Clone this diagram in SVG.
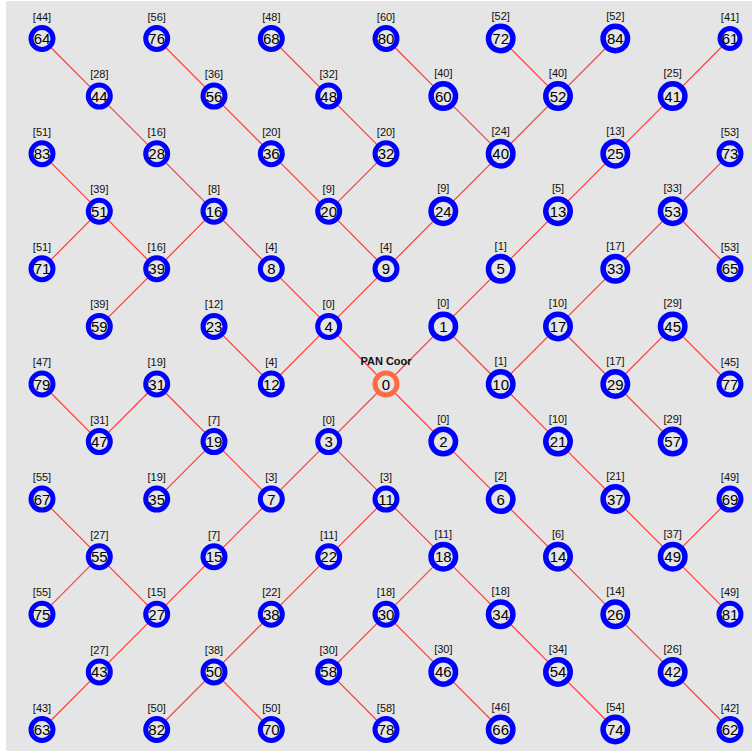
<svg xmlns="http://www.w3.org/2000/svg" width="752" height="755" viewBox="0 0 752 755">
<style>
.s{fill:#e5e5e5;stroke:#0000ff;stroke-width:5}
.b{fill:#e5e5e5;stroke:#0000ff;stroke-width:5.5}
.c{fill:#e5e5e5;stroke:#ff6a45;stroke-width:5}
.num{font-family:"Liberation Sans",Arial,sans-serif;font-size:15px;fill:#000;text-anchor:middle}
.lbl{font-family:"Liberation Sans",Arial,sans-serif;font-size:11px;fill:#111;text-anchor:middle}
#connectors line{stroke:#ff3b3b;stroke-width:1.2}
</style>
<rect x="0" y="0" width="752" height="755" fill="#ffffff"/>
<rect x="6" y="1" width="746" height="750" fill="#e5e5e5"/>
<g id="connectors">
<line x1="42" y1="38.5" x2="99.3" y2="96.1"/>
<line x1="156.7" y1="38.5" x2="214" y2="96.1"/>
<line x1="271.3" y1="38.5" x2="328.7" y2="96.1"/>
<line x1="386" y1="38.5" x2="443.3" y2="96.1"/>
<line x1="500.7" y1="38.5" x2="558" y2="96.1"/>
<line x1="615.3" y1="38.5" x2="558" y2="96.1"/>
<line x1="730" y1="38.5" x2="672.7" y2="96.1"/>
<line x1="99.3" y1="96.1" x2="156.7" y2="153.7"/>
<line x1="214" y1="96.1" x2="271.3" y2="153.7"/>
<line x1="328.7" y1="96.1" x2="386" y2="153.7"/>
<line x1="443.3" y1="96.1" x2="500.7" y2="153.7"/>
<line x1="558" y1="96.1" x2="500.7" y2="153.7"/>
<line x1="672.7" y1="96.1" x2="615.3" y2="153.7"/>
<line x1="42" y1="153.7" x2="99.3" y2="211.2"/>
<line x1="156.7" y1="153.7" x2="214" y2="211.2"/>
<line x1="271.3" y1="153.7" x2="328.7" y2="211.2"/>
<line x1="386" y1="153.7" x2="328.7" y2="211.2"/>
<line x1="500.7" y1="153.7" x2="443.3" y2="211.2"/>
<line x1="615.3" y1="153.7" x2="558" y2="211.2"/>
<line x1="730" y1="153.7" x2="672.7" y2="211.2"/>
<line x1="99.3" y1="211.2" x2="156.7" y2="268.8"/>
<line x1="214" y1="211.2" x2="271.3" y2="268.8"/>
<line x1="328.7" y1="211.2" x2="386" y2="268.8"/>
<line x1="443.3" y1="211.2" x2="386" y2="268.8"/>
<line x1="558" y1="211.2" x2="500.7" y2="268.8"/>
<line x1="672.7" y1="211.2" x2="615.3" y2="268.8"/>
<line x1="42" y1="268.8" x2="99.3" y2="211.2"/>
<line x1="156.7" y1="268.8" x2="214" y2="211.2"/>
<line x1="271.3" y1="268.8" x2="328.7" y2="326.4"/>
<line x1="386" y1="268.8" x2="328.7" y2="326.4"/>
<line x1="500.7" y1="268.8" x2="443.3" y2="326.4"/>
<line x1="615.3" y1="268.8" x2="558" y2="326.4"/>
<line x1="730" y1="268.8" x2="672.7" y2="211.2"/>
<line x1="99.3" y1="326.4" x2="156.7" y2="268.8"/>
<line x1="214" y1="326.4" x2="271.3" y2="384"/>
<line x1="328.7" y1="326.4" x2="386" y2="384"/>
<line x1="443.3" y1="326.4" x2="386" y2="384"/>
<line x1="558" y1="326.4" x2="500.7" y2="384"/>
<line x1="672.7" y1="326.4" x2="615.3" y2="384"/>
<line x1="42" y1="384" x2="99.3" y2="441.6"/>
<line x1="156.7" y1="384" x2="214" y2="441.6"/>
<line x1="271.3" y1="384" x2="328.7" y2="326.4"/>
<line x1="500.7" y1="384" x2="443.3" y2="326.4"/>
<line x1="615.3" y1="384" x2="558" y2="326.4"/>
<line x1="730" y1="384" x2="672.7" y2="326.4"/>
<line x1="99.3" y1="441.6" x2="156.7" y2="384"/>
<line x1="214" y1="441.6" x2="271.3" y2="499.1"/>
<line x1="328.7" y1="441.6" x2="386" y2="384"/>
<line x1="443.3" y1="441.6" x2="386" y2="384"/>
<line x1="558" y1="441.6" x2="500.7" y2="384"/>
<line x1="672.7" y1="441.6" x2="615.3" y2="384"/>
<line x1="42" y1="499.1" x2="99.3" y2="556.7"/>
<line x1="156.7" y1="499.1" x2="214" y2="441.6"/>
<line x1="271.3" y1="499.1" x2="328.7" y2="441.6"/>
<line x1="386" y1="499.1" x2="328.7" y2="441.6"/>
<line x1="500.7" y1="499.1" x2="443.3" y2="441.6"/>
<line x1="615.3" y1="499.1" x2="558" y2="441.6"/>
<line x1="730" y1="499.1" x2="672.7" y2="556.7"/>
<line x1="99.3" y1="556.7" x2="156.7" y2="614.3"/>
<line x1="214" y1="556.7" x2="271.3" y2="499.1"/>
<line x1="328.7" y1="556.7" x2="386" y2="499.1"/>
<line x1="443.3" y1="556.7" x2="386" y2="499.1"/>
<line x1="558" y1="556.7" x2="500.7" y2="499.1"/>
<line x1="672.7" y1="556.7" x2="615.3" y2="499.1"/>
<line x1="42" y1="614.3" x2="99.3" y2="556.7"/>
<line x1="156.7" y1="614.3" x2="214" y2="556.7"/>
<line x1="271.3" y1="614.3" x2="328.7" y2="556.7"/>
<line x1="386" y1="614.3" x2="443.3" y2="556.7"/>
<line x1="500.7" y1="614.3" x2="443.3" y2="556.7"/>
<line x1="615.3" y1="614.3" x2="558" y2="556.7"/>
<line x1="730" y1="614.3" x2="672.7" y2="556.7"/>
<line x1="99.3" y1="671.9" x2="156.7" y2="614.3"/>
<line x1="214" y1="671.9" x2="271.3" y2="614.3"/>
<line x1="328.7" y1="671.9" x2="386" y2="614.3"/>
<line x1="443.3" y1="671.9" x2="386" y2="614.3"/>
<line x1="558" y1="671.9" x2="500.7" y2="614.3"/>
<line x1="672.7" y1="671.9" x2="615.3" y2="614.3"/>
<line x1="42" y1="729.5" x2="99.3" y2="671.9"/>
<line x1="156.7" y1="729.5" x2="214" y2="671.9"/>
<line x1="271.3" y1="729.5" x2="214" y2="671.9"/>
<line x1="386" y1="729.5" x2="328.7" y2="671.9"/>
<line x1="500.7" y1="729.5" x2="443.3" y2="671.9"/>
<line x1="615.3" y1="729.5" x2="558" y2="671.9"/>
<line x1="730" y1="729.5" x2="672.7" y2="671.9"/>
</g>
<g id="n64" transform="translate(42,38.5)"><circle class="s" r="11"/><text class="num" y="5.5">64</text><text class="lbl" y="-18">[44]</text></g>
<g id="n76" transform="translate(156.7,38.5)"><circle class="s" r="11"/><text class="num" y="5.5">76</text><text class="lbl" y="-18">[56]</text></g>
<g id="n68" transform="translate(271.3,38.5)"><circle class="s" r="11"/><text class="num" y="5.5">68</text><text class="lbl" y="-18">[48]</text></g>
<g id="n80" transform="translate(386,38.5)"><circle class="s" r="11"/><text class="num" y="5.5">80</text><text class="lbl" y="-18">[60]</text></g>
<g id="n72" transform="translate(500.7,38.5)"><circle class="b" r="12.25"/><text class="num" y="5.5">72</text><text class="lbl" y="-19">[52]</text></g>
<g id="n84" transform="translate(615.3,38.5)"><circle class="b" r="12.25"/><text class="num" y="5.5">84</text><text class="lbl" y="-19">[52]</text></g>
<g id="n61" transform="translate(730,38.5)"><circle class="s" r="10"/><text class="num" y="5.5">61</text><text class="lbl" y="-18">[41]</text></g>
<g id="n44" transform="translate(99.3,96.1)"><circle class="s" r="11"/><text class="num" y="5.5">44</text><text class="lbl" y="-18">[28]</text></g>
<g id="n56" transform="translate(214,96.1)"><circle class="s" r="11"/><text class="num" y="5.5">56</text><text class="lbl" y="-18">[36]</text></g>
<g id="n48" transform="translate(328.7,96.1)"><circle class="s" r="11"/><text class="num" y="5.5">48</text><text class="lbl" y="-18">[32]</text></g>
<g id="n60" transform="translate(443.3,96.1)"><circle class="b" r="12.25"/><text class="num" y="5.5">60</text><text class="lbl" y="-19">[40]</text></g>
<g id="n52" transform="translate(558,96.1)"><circle class="b" r="12.25"/><text class="num" y="5.5">52</text><text class="lbl" y="-19">[40]</text></g>
<g id="n41" transform="translate(672.7,96.1)"><circle class="b" r="12.25"/><text class="num" y="5.5">41</text><text class="lbl" y="-19">[25]</text></g>
<g id="n83" transform="translate(42,153.7)"><circle class="s" r="11"/><text class="num" y="5.5">83</text><text class="lbl" y="-18">[51]</text></g>
<g id="n28" transform="translate(156.7,153.7)"><circle class="s" r="11"/><text class="num" y="5.5">28</text><text class="lbl" y="-18">[16]</text></g>
<g id="n36" transform="translate(271.3,153.7)"><circle class="s" r="11"/><text class="num" y="5.5">36</text><text class="lbl" y="-18">[20]</text></g>
<g id="n32" transform="translate(386,153.7)"><circle class="s" r="11"/><text class="num" y="5.5">32</text><text class="lbl" y="-18">[20]</text></g>
<g id="n40" transform="translate(500.7,153.7)"><circle class="b" r="12.25"/><text class="num" y="5.5">40</text><text class="lbl" y="-19">[24]</text></g>
<g id="n25" transform="translate(615.3,153.7)"><circle class="b" r="12.25"/><text class="num" y="5.5">25</text><text class="lbl" y="-19">[13]</text></g>
<g id="n73" transform="translate(730,153.7)"><circle class="s" r="11"/><text class="num" y="5.5">73</text><text class="lbl" y="-18">[53]</text></g>
<g id="n51" transform="translate(99.3,211.2)"><circle class="s" r="11"/><text class="num" y="5.5">51</text><text class="lbl" y="-18">[39]</text></g>
<g id="n16" transform="translate(214,211.2)"><circle class="s" r="11"/><text class="num" y="5.5">16</text><text class="lbl" y="-18">[8]</text></g>
<g id="n20" transform="translate(328.7,211.2)"><circle class="s" r="11"/><text class="num" y="5.5">20</text><text class="lbl" y="-18">[9]</text></g>
<g id="n24" transform="translate(443.3,211.2)"><circle class="b" r="12.25"/><text class="num" y="5.5">24</text><text class="lbl" y="-19">[9]</text></g>
<g id="n13" transform="translate(558,211.2)"><circle class="b" r="12.25"/><text class="num" y="5.5">13</text><text class="lbl" y="-19">[5]</text></g>
<g id="n53" transform="translate(672.7,211.2)"><circle class="b" r="12.25"/><text class="num" y="5.5">53</text><text class="lbl" y="-19">[33]</text></g>
<g id="n71" transform="translate(42,268.8)"><circle class="s" r="11"/><text class="num" y="5.5">71</text><text class="lbl" y="-18">[51]</text></g>
<g id="n39" transform="translate(156.7,268.8)"><circle class="s" r="11"/><text class="num" y="5.5">39</text><text class="lbl" y="-18">[16]</text></g>
<g id="n8" transform="translate(271.3,268.8)"><circle class="s" r="11"/><text class="num" y="5.5">8</text><text class="lbl" y="-18">[4]</text></g>
<g id="n9" transform="translate(386,268.8)"><circle class="s" r="11"/><text class="num" y="5.5">9</text><text class="lbl" y="-18">[4]</text></g>
<g id="n5" transform="translate(500.7,268.8)"><circle class="b" r="12.25"/><text class="num" y="5.5">5</text><text class="lbl" y="-19">[1]</text></g>
<g id="n33" transform="translate(615.3,268.8)"><circle class="b" r="12.25"/><text class="num" y="5.5">33</text><text class="lbl" y="-19">[17]</text></g>
<g id="n65" transform="translate(730,268.8)"><circle class="s" r="11"/><text class="num" y="5.5">65</text><text class="lbl" y="-18">[53]</text></g>
<g id="n59" transform="translate(99.3,326.4)"><circle class="s" r="11"/><text class="num" y="5.5">59</text><text class="lbl" y="-18">[39]</text></g>
<g id="n23" transform="translate(214,326.4)"><circle class="s" r="11"/><text class="num" y="5.5">23</text><text class="lbl" y="-18">[12]</text></g>
<g id="n4" transform="translate(328.7,326.4)"><circle class="s" r="11"/><text class="num" y="5.5">4</text><text class="lbl" y="-18">[0]</text></g>
<g id="n1" transform="translate(443.3,326.4)"><circle class="b" r="12.25"/><text class="num" y="5.5">1</text><text class="lbl" y="-19">[0]</text></g>
<g id="n17" transform="translate(558,326.4)"><circle class="b" r="12.25"/><text class="num" y="5.5">17</text><text class="lbl" y="-19">[10]</text></g>
<g id="n45" transform="translate(672.7,326.4)"><circle class="b" r="12.25"/><text class="num" y="5.5">45</text><text class="lbl" y="-19">[29]</text></g>
<g id="n79" transform="translate(42,384)"><circle class="s" r="11"/><text class="num" y="5.5">79</text><text class="lbl" y="-18">[47]</text></g>
<g id="n31" transform="translate(156.7,384)"><circle class="s" r="11"/><text class="num" y="5.5">31</text><text class="lbl" y="-18">[19]</text></g>
<g id="n12" transform="translate(271.3,384)"><circle class="s" r="11"/><text class="num" y="5.5">12</text><text class="lbl" y="-18">[4]</text></g>
<g id="n0" transform="translate(386,384)"><circle class="c" r="11"/><text class="num" y="5.5">0</text><text class="lbl" y="-19" font-weight="bold" font-size="10.5">PAN Coor</text></g>
<g id="n10" transform="translate(500.7,384)"><circle class="b" r="12.25"/><text class="num" y="5.5">10</text><text class="lbl" y="-19">[1]</text></g>
<g id="n29" transform="translate(615.3,384)"><circle class="b" r="12.25"/><text class="num" y="5.5">29</text><text class="lbl" y="-19">[17]</text></g>
<g id="n77" transform="translate(730,384)"><circle class="s" r="11"/><text class="num" y="5.5">77</text><text class="lbl" y="-18">[45]</text></g>
<g id="n47" transform="translate(99.3,441.6)"><circle class="s" r="11"/><text class="num" y="5.5">47</text><text class="lbl" y="-18">[31]</text></g>
<g id="n19" transform="translate(214,441.6)"><circle class="s" r="11"/><text class="num" y="5.5">19</text><text class="lbl" y="-18">[7]</text></g>
<g id="n3" transform="translate(328.7,441.6)"><circle class="s" r="11"/><text class="num" y="5.5">3</text><text class="lbl" y="-18">[0]</text></g>
<g id="n2" transform="translate(443.3,441.6)"><circle class="b" r="12.25"/><text class="num" y="5.5">2</text><text class="lbl" y="-19">[0]</text></g>
<g id="n21" transform="translate(558,441.6)"><circle class="b" r="12.25"/><text class="num" y="5.5">21</text><text class="lbl" y="-19">[10]</text></g>
<g id="n57" transform="translate(672.7,441.6)"><circle class="b" r="12.25"/><text class="num" y="5.5">57</text><text class="lbl" y="-19">[29]</text></g>
<g id="n67" transform="translate(42,499.1)"><circle class="s" r="11"/><text class="num" y="5.5">67</text><text class="lbl" y="-18">[55]</text></g>
<g id="n35" transform="translate(156.7,499.1)"><circle class="s" r="11"/><text class="num" y="5.5">35</text><text class="lbl" y="-18">[19]</text></g>
<g id="n7" transform="translate(271.3,499.1)"><circle class="s" r="11"/><text class="num" y="5.5">7</text><text class="lbl" y="-18">[3]</text></g>
<g id="n11" transform="translate(386,499.1)"><circle class="s" r="11"/><text class="num" y="5.5">11</text><text class="lbl" y="-18">[3]</text></g>
<g id="n6" transform="translate(500.7,499.1)"><circle class="b" r="12.25"/><text class="num" y="5.5">6</text><text class="lbl" y="-19">[2]</text></g>
<g id="n37" transform="translate(615.3,499.1)"><circle class="b" r="12.25"/><text class="num" y="5.5">37</text><text class="lbl" y="-19">[21]</text></g>
<g id="n69" transform="translate(730,499.1)"><circle class="s" r="11"/><text class="num" y="5.5">69</text><text class="lbl" y="-18">[49]</text></g>
<g id="n55" transform="translate(99.3,556.7)"><circle class="s" r="11"/><text class="num" y="5.5">55</text><text class="lbl" y="-18">[27]</text></g>
<g id="n15" transform="translate(214,556.7)"><circle class="s" r="11"/><text class="num" y="5.5">15</text><text class="lbl" y="-18">[7]</text></g>
<g id="n22" transform="translate(328.7,556.7)"><circle class="s" r="11"/><text class="num" y="5.5">22</text><text class="lbl" y="-18">[11]</text></g>
<g id="n18" transform="translate(443.3,556.7)"><circle class="b" r="12.25"/><text class="num" y="5.5">18</text><text class="lbl" y="-19">[11]</text></g>
<g id="n14" transform="translate(558,556.7)"><circle class="b" r="12.25"/><text class="num" y="5.5">14</text><text class="lbl" y="-19">[6]</text></g>
<g id="n49" transform="translate(672.7,556.7)"><circle class="b" r="12.25"/><text class="num" y="5.5">49</text><text class="lbl" y="-19">[37]</text></g>
<g id="n75" transform="translate(42,614.3)"><circle class="s" r="11"/><text class="num" y="5.5">75</text><text class="lbl" y="-18">[55]</text></g>
<g id="n27" transform="translate(156.7,614.3)"><circle class="s" r="11"/><text class="num" y="5.5">27</text><text class="lbl" y="-18">[15]</text></g>
<g id="n38" transform="translate(271.3,614.3)"><circle class="s" r="11"/><text class="num" y="5.5">38</text><text class="lbl" y="-18">[22]</text></g>
<g id="n30" transform="translate(386,614.3)"><circle class="s" r="11"/><text class="num" y="5.5">30</text><text class="lbl" y="-18">[18]</text></g>
<g id="n34" transform="translate(500.7,614.3)"><circle class="b" r="12.25"/><text class="num" y="5.5">34</text><text class="lbl" y="-19">[18]</text></g>
<g id="n26" transform="translate(615.3,614.3)"><circle class="b" r="12.25"/><text class="num" y="5.5">26</text><text class="lbl" y="-19">[14]</text></g>
<g id="n81" transform="translate(730,614.3)"><circle class="s" r="11"/><text class="num" y="5.5">81</text><text class="lbl" y="-18">[49]</text></g>
<g id="n43" transform="translate(99.3,671.9)"><circle class="s" r="11"/><text class="num" y="5.5">43</text><text class="lbl" y="-18">[27]</text></g>
<g id="n50" transform="translate(214,671.9)"><circle class="s" r="11"/><text class="num" y="5.5">50</text><text class="lbl" y="-18">[38]</text></g>
<g id="n58" transform="translate(328.7,671.9)"><circle class="s" r="11"/><text class="num" y="5.5">58</text><text class="lbl" y="-18">[30]</text></g>
<g id="n46" transform="translate(443.3,671.9)"><circle class="b" r="12.25"/><text class="num" y="5.5">46</text><text class="lbl" y="-19">[30]</text></g>
<g id="n54" transform="translate(558,671.9)"><circle class="b" r="12.25"/><text class="num" y="5.5">54</text><text class="lbl" y="-19">[34]</text></g>
<g id="n42" transform="translate(672.7,671.9)"><circle class="b" r="12.25"/><text class="num" y="5.5">42</text><text class="lbl" y="-19">[26]</text></g>
<g id="n63" transform="translate(42,729.5)"><circle class="s" r="11"/><text class="num" y="5.5">63</text><text class="lbl" y="-18">[43]</text></g>
<g id="n82" transform="translate(156.7,729.5)"><circle class="s" r="11"/><text class="num" y="5.5">82</text><text class="lbl" y="-18">[50]</text></g>
<g id="n70" transform="translate(271.3,729.5)"><circle class="s" r="11"/><text class="num" y="5.5">70</text><text class="lbl" y="-18">[50]</text></g>
<g id="n78" transform="translate(386,729.5)"><circle class="s" r="11"/><text class="num" y="5.5">78</text><text class="lbl" y="-18">[58]</text></g>
<g id="n66" transform="translate(500.7,729.5)"><circle class="b" r="12.25"/><text class="num" y="5.5">66</text><text class="lbl" y="-19">[46]</text></g>
<g id="n74" transform="translate(615.3,729.5)"><circle class="b" r="12.25"/><text class="num" y="5.5">74</text><text class="lbl" y="-19">[54]</text></g>
<g id="n62" transform="translate(730,729.5)"><circle class="s" r="11"/><text class="num" y="5.5">62</text><text class="lbl" y="-18">[42]</text></g>
</svg>
